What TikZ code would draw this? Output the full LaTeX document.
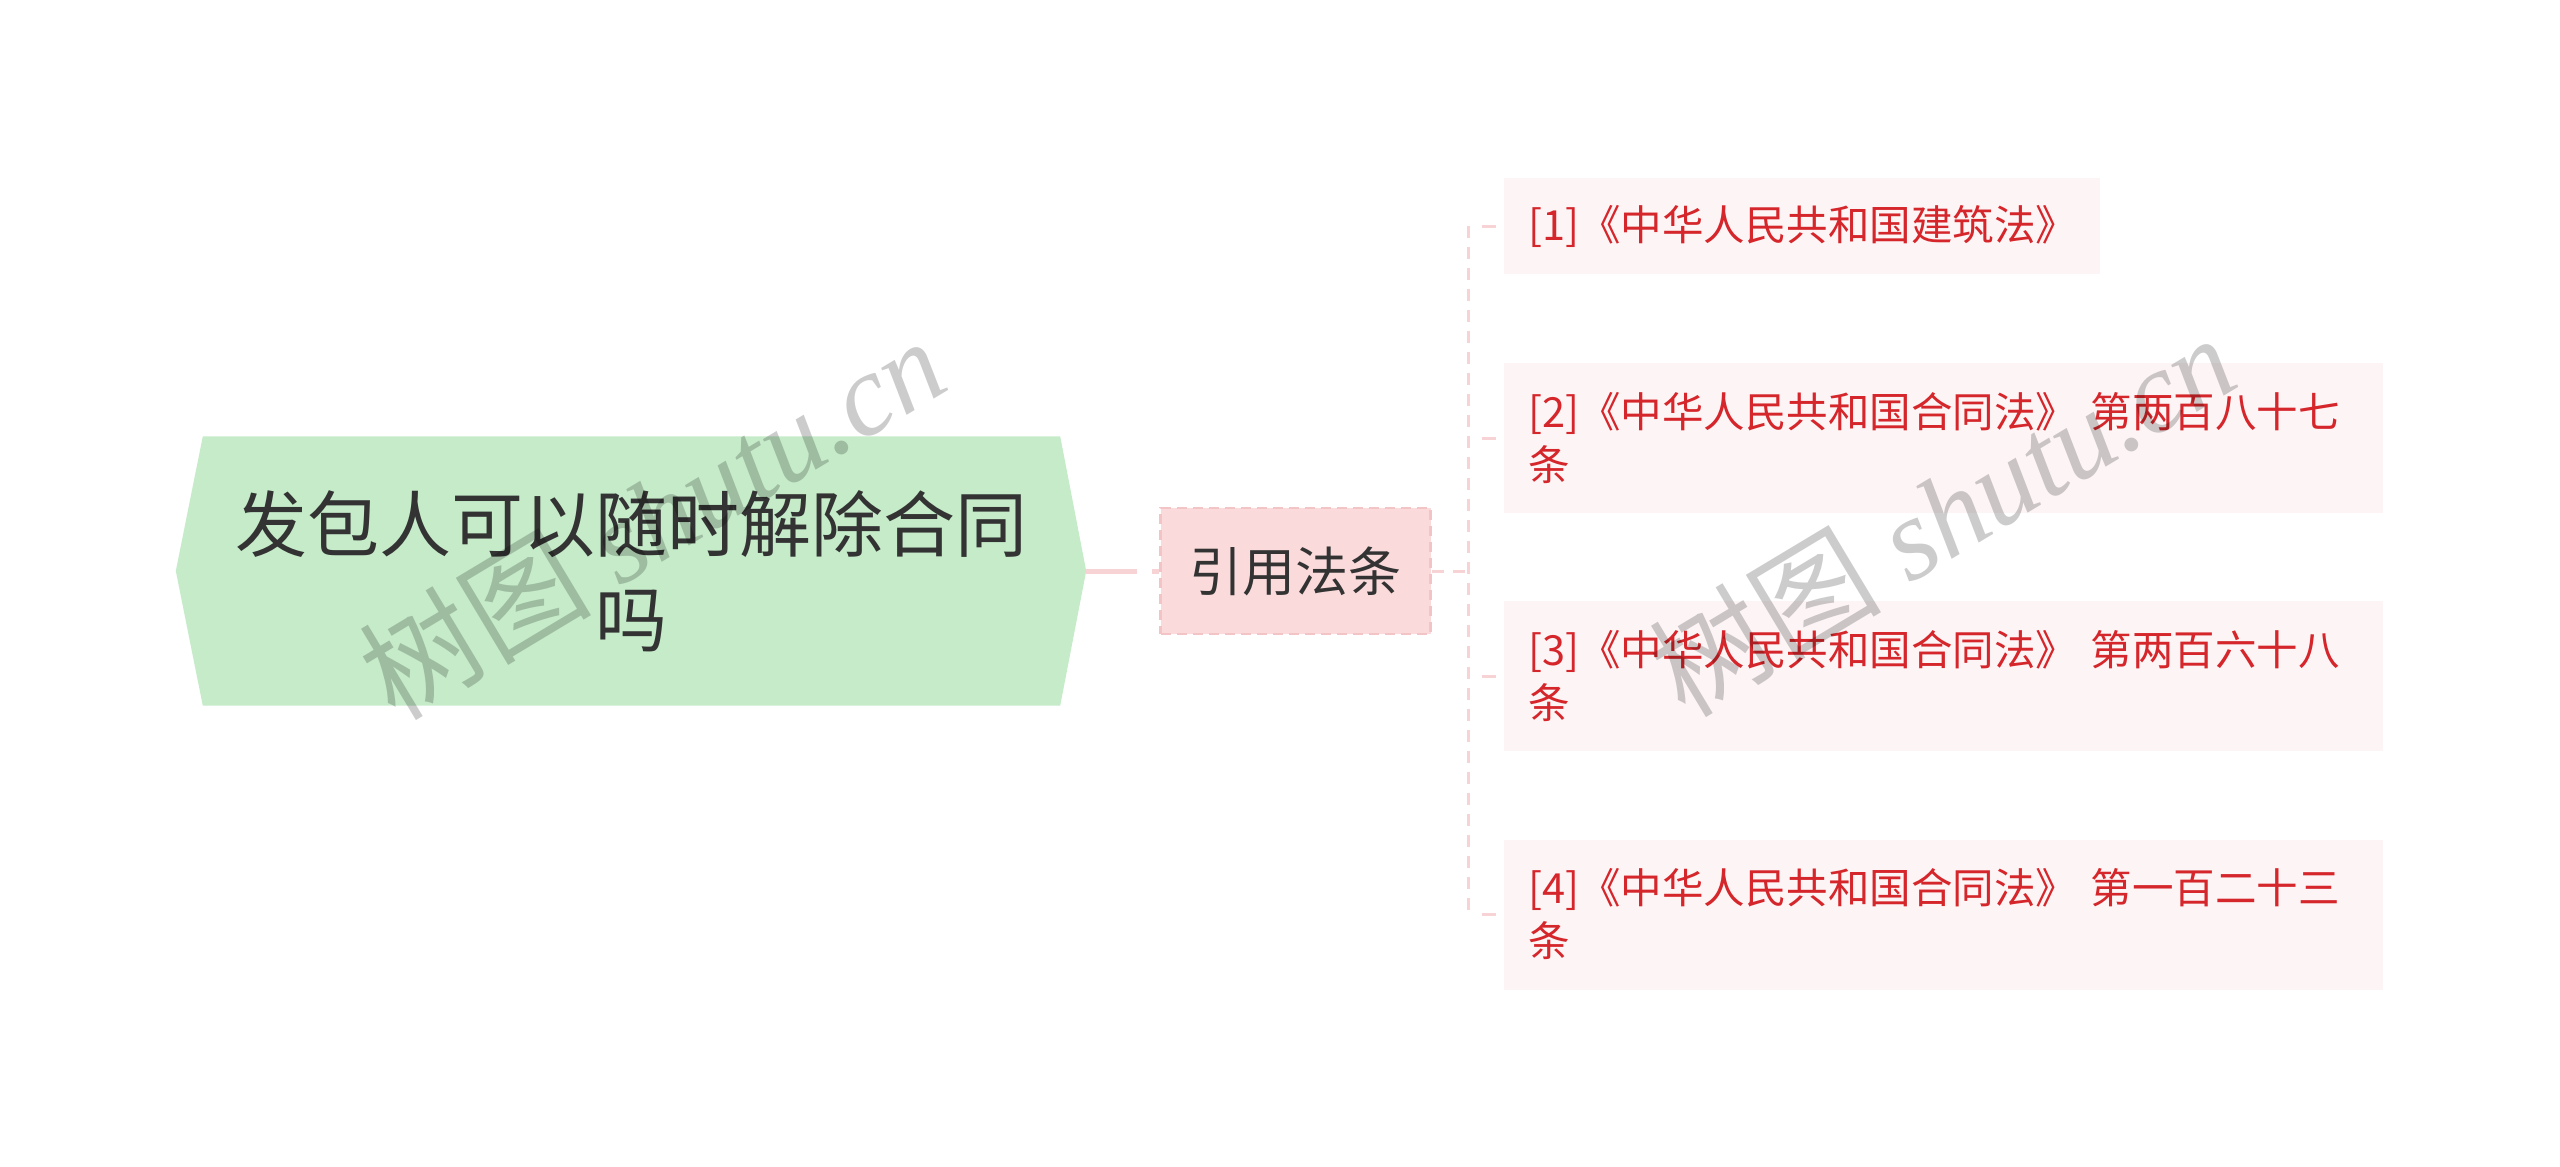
\documentclass[tikz,border=0pt]{standalone}
\usepackage{fontspec}
\setmainfont{Liberation Serif}
\newfontfamily\cjk{Noto Sans CJK SC}
\usetikzlibrary{calc}
\definecolor{rootfill}{HTML}{C5EBC9}
\definecolor{darktext}{HTML}{333333}
\definecolor{midfill}{HTML}{FADADA}
\definecolor{midborder}{HTML}{F3C4C6}
\definecolor{leaffill}{HTML}{FDF5F5}
\definecolor{leaftext}{HTML}{D5262B}
\definecolor{linkpink}{HTML}{F7D3D5}
\pgfdeclarelayer{bg}
\pgfsetlayers{bg,main}
\tikzset{
  rootbox/.style={minimum width=857pt, minimum height=269pt, inner sep=0pt, align=center,
    font=\cjk\fontsize{72}{95}\selectfont, text=darktext},
  midbox/.style={minimum width=270pt, minimum height=126pt, inner sep=0pt, fill=midfill,
    draw=midborder, line width=2.5pt, dash pattern=on 10pt off 6pt,
    font=\cjk\fontsize{53}{64}\selectfont, text=darktext},
  leafbox/.style={fill=leaffill, inner xsep=24pt, inner ysep=0pt, align=left,
    font=\cjk\fontsize{41.5}{53}\selectfont, text=leaftext},
  rootlink/.style={draw=linkpink, line width=5pt, dash pattern=on 51pt off 15pt},
  buslink/.style={draw=linkpink, line width=3pt, dash pattern=on 12pt off 9pt},
  ticklink/.style={draw=linkpink, line width=3pt, dash pattern=on 16pt off 13pt, dash phase=16pt},
  wm/.style={inner sep=0pt, text=black, text opacity=0.2, font=\fontsize{116}{116}\selectfont}
}
\begin{document}
\begin{tikzpicture}[x=1pt,y=-1pt]
\useasboundingbox (0,0) rectangle (2560,1167);
% root
\node[rootbox] (root) at (631.5,571) {发包人可以随时解除合同\\吗};
\coordinate (rootR) at ($(root.east)+(26,0)$);
\coordinate (rootL) at ($(root.west)+(-27,0)$);
\begin{pgfonlayer}{bg}
\fill[rootfill] (root.north west) -- (root.north east) -- (rootR) -- (root.south east)
  -- (root.south west) -- (rootL) -- cycle;
\end{pgfonlayer}
% middle
\node[midbox] (mid) at (1295.5,571) {引用法条};
% leaves
\node[leafbox, text width=548pt, minimum height=96pt] (c1) at (1802,226)
  {[1]《中华人民共和国建筑法》};
\node[leafbox, text width=831pt, minimum height=150pt] (c2) at (1943.5,438)
  {[2]《中华人民共和国合同法》 第两百八十七\\条};
\node[leafbox, text width=831pt, minimum height=150pt] (c3) at (1943.5,676)
  {[3]《中华人民共和国合同法》 第两百六十八\\条};
\node[leafbox, text width=831pt, minimum height=150pt] (c4) at (1943.5,914.5)
  {[4]《中华人民共和国合同法》 第一百二十三\\条};
% connectors
\draw[rootlink] (rootR) -- (mid.west);
\coordinate (bus) at ($(mid.east)+(37,0)$);
\draw[buslink] (mid.east) -- (bus);
\draw[buslink] (bus |- c1.west) -- (bus |- c4.west);
\foreach \c in {c1,c2,c3,c4}{
  \draw[ticklink] (bus |- \c.west) -- ([xshift=-8pt]\c.west);
}
% watermarks
\node[wm, rotate=31] (wm1) at (652,517) {{\cjk 树图} \textit{shutu.cn}};
\node[wm, rotate=31] (wm2) at (1942,514) {{\cjk 树图} \textit{shutu.cn}};
\end{tikzpicture}
\end{document}
